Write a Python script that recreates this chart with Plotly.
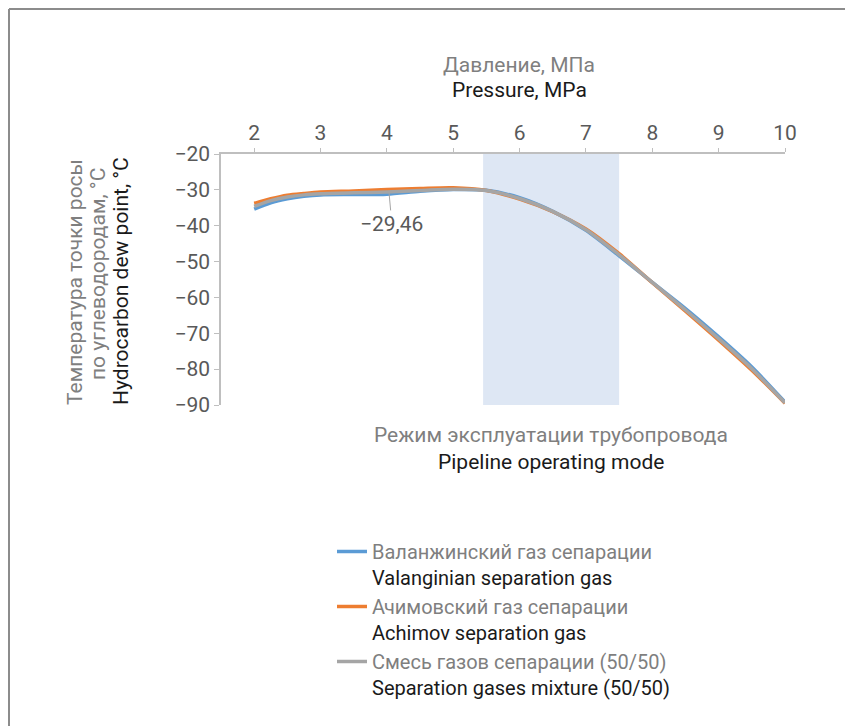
import plotly.graph_objects as go

# ---------------- data ----------------
pressure = [2.0, 2.25, 2.5, 2.75, 3.0, 3.5, 4.0, 4.5, 5.0, 5.5, 6.0, 6.5, 7.0, 7.5, 8.0, 8.5, 9.0, 9.5, 10.0]
valanginian = [-35.4, -33.6, -32.5, -31.8, -31.4, -31.3, -31.2, -30.4, -29.9, -30.1, -32.2, -36.0, -41.3, -48.4, -55.8, -63.1, -71.0, -79.4, -89.2]
achimov = [-33.8, -32.5, -31.5, -31.0, -30.6, -30.3, -29.9, -29.6, -29.4, -30.2, -32.6, -36.1, -40.9, -47.8, -55.9, -63.8, -71.9, -80.3, -89.5]
mixture = [-34.6, -33.0, -32.0, -31.4, -31.1, -30.8, -30.6, -30.2, -29.8, -30.2, -32.4, -36.0, -41.1, -48.1, -55.8, -63.5, -71.5, -79.9, -89.4]

series_ru = ["Валанжинский газ сепарации", "Ачимовский газ сепарации", "Смесь газов сепарации (50/50)"]
series_en = ["Valanginian separation gas", "Achimov separation gas", "Separation gases mixture (50/50)"]
colors = ["#5B9BD5", "#ED7D31", "#A5A5A5"]

x_ticks = [2, 3, 4, 5, 6, 7, 8, 9, 10]
y_ticks = [-20, -30, -40, -50, -60, -70, -80, -90]
operating_range = [5.45, 7.5]
label_point = (4.03, -30.3)
label_text = "−29,46"

# ---------------- layout geometry ----------------
W, H = 845, 726
L, R, T, B = 221, 60, 154, 321
PW, PH = W - L - R, H - T - B

def px(xp):
    return (xp - L) / PW

def py(yp):
    return (H - B - yp) / PH

FONT = "Roboto, sans-serif"
GREY = "#7F7F7F"
BLACK = "#1A1A1A"
FS = 21

fig = go.Figure()
for ys, ru, en, c in zip([valanginian, achimov, mixture], series_ru, series_en, colors):
    fig.add_trace(go.Scatter(
        x=pressure, y=ys, mode="lines", line=dict(color=c, width=3.5, shape="spline", smoothing=0.8),
        name=f"<span style='color:{GREY}'>{ru}</span><br>{en}",
    ))

fig.add_shape(type="rect", xref="x", yref="paper", x0=operating_range[0], x1=operating_range[1],
              y0=0, y1=1, fillcolor="#DEE7F4", line_width=0, layer="below")

# frame (top and left)
fig.add_shape(type="line", xref="paper", yref="paper", x0=px(9), x1=px(845), y0=py(9), y1=py(9),
              line=dict(color="#8C8C8C", width=2))
fig.add_shape(type="line", xref="paper", yref="paper", x0=px(9), x1=px(9), y0=py(9), y1=py(726),
              line=dict(color="#8C8C8C", width=2))

def txt(text, x, y, color, xref="paper", angle=0):
    return dict(text=text, x=x, y=y, xref=xref, yref="paper", xanchor="center", yanchor="middle",
                textangle=angle, showarrow=False, font=dict(color=color, size=FS))

mid = sum(operating_range) / 2
ann = [
    txt("Давление, МПа", px(519), py(65), GREY),
    txt("Pressure, MPa", px(519), py(90), BLACK),
    txt("Режим эксплуатации трубопровода", mid, py(435), GREY, xref="x"),
    txt("Pipeline operating mode", mid, py(462), BLACK, xref="x"),
    txt("Температура точки росы", px(75), py(282), GREY, angle=-90),
    txt("по углеводородам, °C", px(98), py(274), GREY, angle=-90),
    txt("Hydrocarbon dew point, °C", px(121), py(281), BLACK, angle=-90),
    dict(text=label_text, x=label_point[0], y=label_point[1], xref="x", yref="y",
         showarrow=True, arrowhead=0, arrowwidth=1, arrowcolor="#A5A5A5", ax=3, ay=33,
         standoff=0, font=dict(color="#595959", size=FS)),
]

fig.update_layout(
    width=W, height=H, margin=dict(l=L, r=R, t=T, b=B, autoexpand=False),
    paper_bgcolor="white", plot_bgcolor="white",
    font=dict(family=FONT, size=FS, color="#595959"),
    annotations=ann,
    showlegend=True,
    legend=dict(x=px(332), y=py(532), xanchor="left", yanchor="top", xref="paper", yref="paper",
                font=dict(size=20, color=BLACK), bgcolor="rgba(0,0,0,0)", tracegroupgap=0,
                valign="top"),
    xaxis=dict(range=[1.5, 10], side="top", tickvals=x_ticks, showgrid=False, zeroline=False,
               showline=True, linecolor="#BFBFBF", linewidth=1.5, ticks="outside", ticklen=4,
               tickcolor="#BFBFBF", tickfont=dict(color="#595959", size=FS)),
    yaxis=dict(range=[-90, -20], tickvals=y_ticks, showgrid=False, zeroline=False,
               showline=True, linecolor="#BFBFBF", linewidth=1.5, ticks="outside", ticklen=5,
               tickcolor="#BFBFBF", tickfont=dict(color="#595959", size=FS)),
)

fig.write_html("out.html")
